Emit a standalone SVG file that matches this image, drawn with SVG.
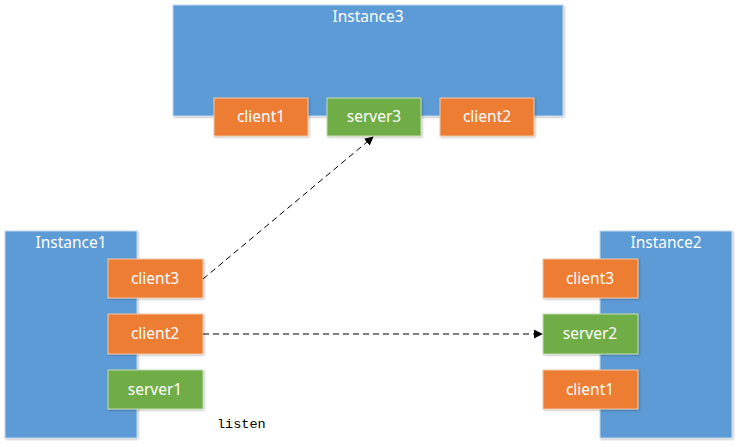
<svg xmlns="http://www.w3.org/2000/svg" width="739" height="447" viewBox="0 0 739 447">
<defs>
<marker id="arr" viewBox="0 0 10 10" refX="9" refY="5" markerWidth="9" markerHeight="9" markerUnits="userSpaceOnUse" orient="auto">
<path d="M0,0 L10,5 L0,10 z" fill="#000"/>
</marker>
<filter id="sh" x="-10%" y="-10%" width="130%" height="130%">
<feGaussianBlur in="SourceAlpha" stdDeviation="1"/>
<feOffset dx="1" dy="1" result="b"/>
<feComponentTransfer><feFuncA type="linear" slope="0.25"/></feComponentTransfer>
<feMerge><feMergeNode/><feMergeNode in="SourceGraphic"/></feMerge>
</filter>
</defs>
<style>
.inst{fill:#5B9BD5;stroke:#C5D9EE;stroke-width:1;filter:url(#sh)}
.cli{fill:#ED7D31;stroke:#F2C9AC;stroke-width:1;filter:url(#sh)}
.srv{fill:#70AD47;stroke:#C6DDB5;stroke-width:1;filter:url(#sh)}
.t{font-family:"Noto Sans","Open Sans",sans-serif;font-size:15.5px;fill:#fff;text-anchor:middle;dominant-baseline:central}
.conn{stroke:#000;stroke-width:1;stroke-dasharray:6,4;fill:none}
.mono{font-family:"Liberation Mono","DejaVu Sans Mono",monospace;font-size:13.5px;fill:#000}
</style>
<rect width="739" height="447" fill="#fff"/>
<g id="instance3">
<rect class="inst" x="173" y="5" width="390" height="111"/>
<text class="t" x="368" y="16">Instance3</text>
</g>
<g id="instance1">
<rect class="inst" x="5" y="231" width="132" height="207"/>
<text class="t" x="71" y="242">Instance1</text>
</g>
<g id="instance2">
<rect class="inst" x="600" y="231" width="132" height="207"/>
<text class="t" x="666" y="242">Instance2</text>
</g>
<g id="i3-client1"><rect class="cli" x="214" y="98" width="94" height="38"/><text class="t" x="261" y="116">client1</text></g>
<g id="i3-server3"><rect class="srv" x="327" y="98" width="94" height="38"/><text class="t" x="374" y="116">server3</text></g>
<g id="i3-client2"><rect class="cli" x="440" y="98" width="94" height="38"/><text class="t" x="487" y="116">client2</text></g>
<g id="i1-client3"><rect class="cli" x="108" y="259" width="95" height="39"/><text class="t" x="155" y="278">client3</text></g>
<g id="i1-client2"><rect class="cli" x="108" y="314" width="95" height="40"/><text class="t" x="155" y="333">client2</text></g>
<g id="i1-server1"><rect class="srv" x="108" y="370" width="95" height="39"/><text class="t" x="155" y="389">server1</text></g>
<g id="i2-client3"><rect class="cli" x="543" y="259" width="95" height="39"/><text class="t" x="590" y="278">client3</text></g>
<g id="i2-server2"><rect class="srv" x="543" y="314" width="95" height="40"/><text class="t" x="590" y="333">server2</text></g>
<g id="i2-client1"><rect class="cli" x="543" y="370" width="95" height="39"/><text class="t" x="590" y="389">client1</text></g>
<g id="connectors">
<line class="conn" x1="203" y1="279" x2="373" y2="137" marker-end="url(#arr)"/>
<line class="conn" x1="203" y1="334" x2="542" y2="334" marker-end="url(#arr)"/>
</g>
<text class="mono" x="217" y="428">listen</text>
</svg>
